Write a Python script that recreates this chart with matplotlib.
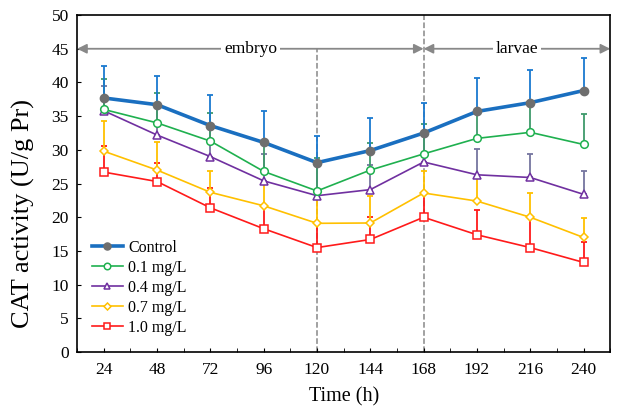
import numpy as np
import matplotlib
matplotlib.use("Agg")
import matplotlib.pyplot as plt

plt.rcParams['font.family'] = ['Liberation Serif', 'DejaVu Serif']

# time points (h), plotted as evenly spaced categories
hours = [24, 48, 72, 96, 120, 144, 168, 192, 216, 240]

control = [37.7, 36.7, 33.6, 31.1, 28.1, 29.9, 32.5, 35.7, 37.0, 38.8]
control_err = [4.7, 4.3, 4.5, 4.7, 3.9, 4.9, 4.5, 4.9, 4.9, 4.9]

c01 = [36.0, 34.0, 31.3, 26.8, 23.9, 27.0, 29.4, 31.7, 32.6, 30.8]
c01_err = [4.5, 4.5, 4.2, 4.0, 4.9, 4.0, 4.5, 3.8, 4.2, 4.5]

c04 = [35.8, 32.2, 29.0, 25.4, 23.2, 24.1, 28.2, 26.3, 25.9, 23.4]
c04_err = [3.7, 4.0, 4.3, 4.0, 4.5, 3.7, 4.1, 3.9, 3.5, 3.5]

c07 = [29.8, 27.0, 23.7, 21.7, 19.1, 19.15, 23.6, 22.4, 20.0, 17.0]
c07_err = [4.5, 4.1, 3.1, 3.5, 3.9, 4.05, 3.2, 3.6, 3.6, 2.9]

c10 = [26.7, 25.3, 21.4, 18.3, 15.5, 16.7, 20.0, 17.4, 15.5, 13.3]
c10_err = [3.8, 2.8, 3.0, 3.3, 3.5, 3.4, 3.5, 3.7, 4.4, 3.1]

x = np.arange(len(hours))

fig = plt.figure(figsize=(6.17, 4.07), dpi=100)
ax = fig.add_axes([0.125, 0.135, 0.864, 0.828])

# (values, errors, label, line colour, errorbar colour, marker, size)
series = [
    (c10, c10_err, '1.0 mg/L', '#ff1a1a', '#ff1a1a', 's', 5.5),
    (c07, c07_err, '0.7 mg/L', '#ffc000', '#ffc000', 'D', 4.2),
    (c04, c04_err, '0.4 mg/L', '#7030a0', '#75759f', '^', 5.5),
    (c01, c01_err, '0.1 mg/L', '#1fb04f', '#3f9a6b', 'o', 5.5),
]

handles = {}
for vals, err, lab, col, ecol, mk, ms in series:
    yerr = [np.zeros(len(err)), np.array(err)]
    ax.errorbar(x, vals, yerr=yerr, fmt='none', ecolor=ecol, elinewidth=1.3,
                capsize=2.5, capthick=1.3, zorder=2)
    h, = ax.plot(x, vals, color=col, lw=1.2, marker=mk, ms=ms,
                 mfc='white', mec=col, mew=1.1, zorder=3, label=lab)
    handles[lab] = h

yerr = [np.zeros(len(control_err)), np.array(control_err)]
ax.errorbar(x, control, yerr=yerr, fmt='none', ecolor='#1a7ad0', elinewidth=1.3,
            capsize=2.5, capthick=1.3, zorder=4)
h, = ax.plot(x, control, color='#1a6fc0', lw=2.6, marker='o', ms=6,
             mfc='#6e6e6e', mec='#6e6e6e', zorder=5, label='Control')
handles['Control'] = h

# stage separators
ax.plot([4, 4], [0, 45], ls='--', color='#888888', lw=1.1, zorder=1)
ax.plot([6, 6], [0, 50], ls='--', color='#888888', lw=1.1, zorder=1)

arrow = dict(arrowstyle='<|-|>', color='#888888', lw=1.3, mutation_scale=14,
             shrinkA=0, shrinkB=0)
ax.annotate('', xy=(-0.5, 45), xytext=(6, 45), arrowprops=arrow)
ax.annotate('', xy=(6, 45), xytext=(9.5, 45), arrowprops=arrow)
ax.text(2.75, 45, 'embryo', ha='center', va='center', fontsize=12.5,
        bbox=dict(facecolor='white', edgecolor='none', pad=2))
ax.text(7.75, 45, 'larvae', ha='center', va='center', fontsize=12.5,
        bbox=dict(facecolor='white', edgecolor='none', pad=2))

ax.set_xlim(-0.5, 9.5)
ax.set_ylim(0, 50)
ax.set_xticks(x)
ax.set_xticklabels([str(hh) for hh in hours])
ax.set_xticks(np.arange(-0.5, 9.6, 1), minor=True)
ax.set_yticks(np.arange(0, 51, 5))
ax.tick_params(axis='both', which='both', direction='in', labelsize=12.5, length=3)
ax.tick_params(axis='x', which='major', pad=7)
ax.tick_params(axis='y', which='major', pad=6)
ax.set_xlabel('Time (h)', fontsize=14.5, labelpad=7)
ax.set_ylabel('CAT activity (U/g Pr)', fontsize=19)
ax.yaxis.set_label_coords(-0.1, 0.41)
ax.yaxis.label.set_va('center')
for sp in ax.spines.values():
    sp.set_linewidth(1.2)

order = ['Control', '0.1 mg/L', '0.4 mg/L', '0.7 mg/L', '1.0 mg/L']
ax.legend([handles[k] for k in order], order, loc='lower left', frameon=False,
          fontsize=11.5, handlelength=2.0, handletextpad=0.3, labelspacing=0.25,
          markerscale=0.85, bbox_to_anchor=(0.0, 0.006))

fig.savefig('out.png', dpi=100)
